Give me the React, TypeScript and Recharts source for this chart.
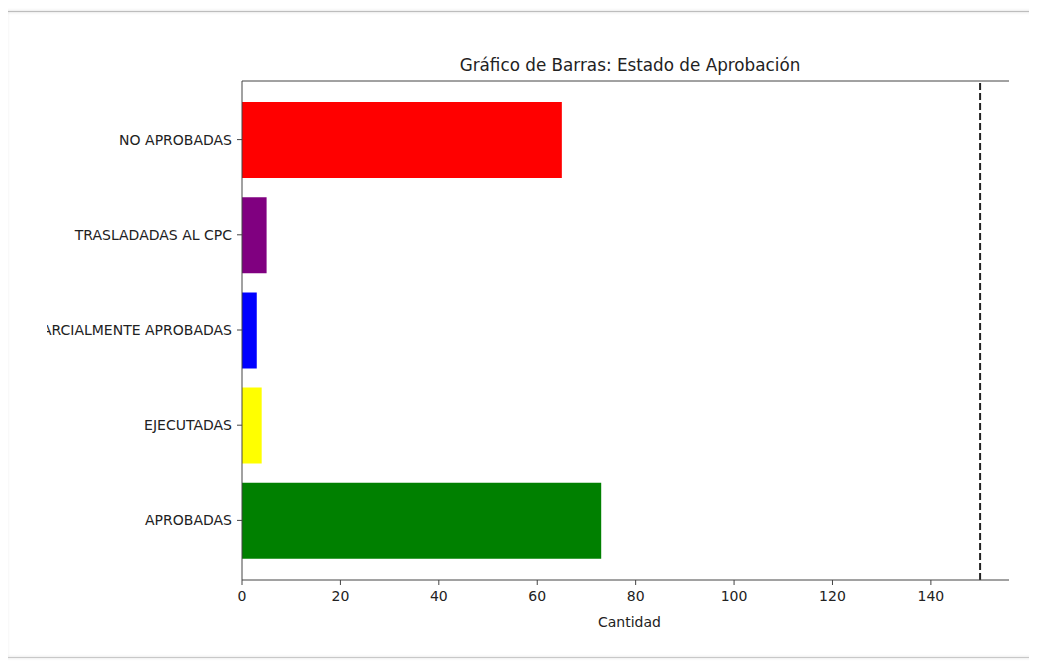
import React from 'react';
import { BarChart, Bar, XAxis, YAxis, Cell, ReferenceLine, Label } from 'recharts';

// categories from top to bottom as they appear in the picture
const estados = ['NO APROBADAS', 'TRASLADADAS AL CPC', 'PARCIALMENTE APROBADAS', 'EJECUTADAS', 'APROBADAS'];
const cantidades = [65, 5, 3, 4, 73];
const colores = ['#ff0000', '#800080', '#0000ff', '#ffff00', '#008000'];
const xTicks = [0, 20, 40, 60, 80, 100, 120, 140];
const limite = 150;

const FONT = '"DejaVu Sans", sans-serif';
const TICK_SIZE = 14;

// single-line category label (the default tick wraps long text)
const EstadoTick = (props: any) => {
    const { x, y, payload } = props;
    return (
        <text x={x} y={y} dy="0.355em" textAnchor="end" fill="#222" fontSize={TICK_SIZE} fontFamily={FONT}>
            {payload.value}
        </text>
    );
};

const App = () => {
    const chartData = estados.map((estado, i) => ({
        estado,
        cantidad: cantidades[i],
    })); // one row per bar

    return (
        <div style={{ position: 'relative', width: 1037, height: 661, marginLeft: -8, marginTop: -8, background: '#fff', overflow: 'hidden', fontFamily: FONT }}>
            {/* screenshot frame: left, top and bottom edges */}
            <div style={{ position: 'absolute', left: 6, top: 11, width: 1031, height: 1, background: '#bdbdbd', boxShadow: '0 0 3px rgba(0,0,0,0.25)' }} />
            <div style={{ position: 'absolute', left: 6, top: 11, width: 1, height: 647, background: '#bdbdbd', boxShadow: '0 0 3px rgba(0,0,0,0.25)' }} />
            <div style={{ position: 'absolute', left: 6, top: 657, width: 1031, height: 1, background: '#c8c8c8', boxShadow: '0 0 3px rgba(0,0,0,0.2)' }} />
            <div
                style={{
                    position: 'absolute',
                    left: 0,
                    width: 1260,
                    top: 53,
                    textAlign: 'center',
                    fontSize: 16.8,
                    color: '#222',
                    lineHeight: '24px',
                }}
            >
                Gráfico de Barras: Estado de Aprobación
            </div>

            {/* figure is cropped on both sides in the reference */}
            <div style={{ position: 'absolute', left: 47, top: 0, width: 962, height: 661, overflow: 'hidden' }}>
                <BarChart
                    width={970}
                    height={661}
                    data={chartData}
                    layout="vertical"
                    margin={{ top: 80, right: 0, bottom: 31, left: 0 }}
                    style={{ fontFamily: FONT }}
                >
                    <XAxis
                        type="number"
                        dataKey="cantidad"
                        domain={[0, 157.5]}
                        ticks={xTicks}
                        allowDataOverflow
                        height={50}
                        tickSize={5}
                        tickMargin={6}
                        stroke="#444"
                        tick={{ fill: '#222', fontSize: TICK_SIZE }}
                    >
                        <Label value="Cantidad" position="insideBottom" offset={3} fill="#222" fontSize={TICK_SIZE} />
                    </XAxis>
                    <XAxis
                        xAxisId="top"
                        orientation="top"
                        type="number"
                        domain={[0, 157.5]}
                        height={1}
                        tick={false}
                        tickLine={false}
                        stroke="#444"
                    />
                    <YAxis
                        type="category"
                        dataKey="estado"
                        width={195}
                        padding={{ top: 11, bottom: 12 }}
                        tickSize={5}
                        tickMargin={5}
                        stroke="#444"
                        tick={<EstadoTick />}
                        interval={0}
                    />
                    <Bar dataKey="cantidad" barSize={76} isAnimationActive={false}>
                        {chartData.map((row, i) => (
                            <Cell key={row.estado} fill={colores[i]} />
                        ))}
                    </Bar>
                    <ReferenceLine x={limite} stroke="#222" strokeWidth={2} strokeDasharray="7 3" />
                </BarChart>
            </div>
        </div>
    );
};

export default App;
